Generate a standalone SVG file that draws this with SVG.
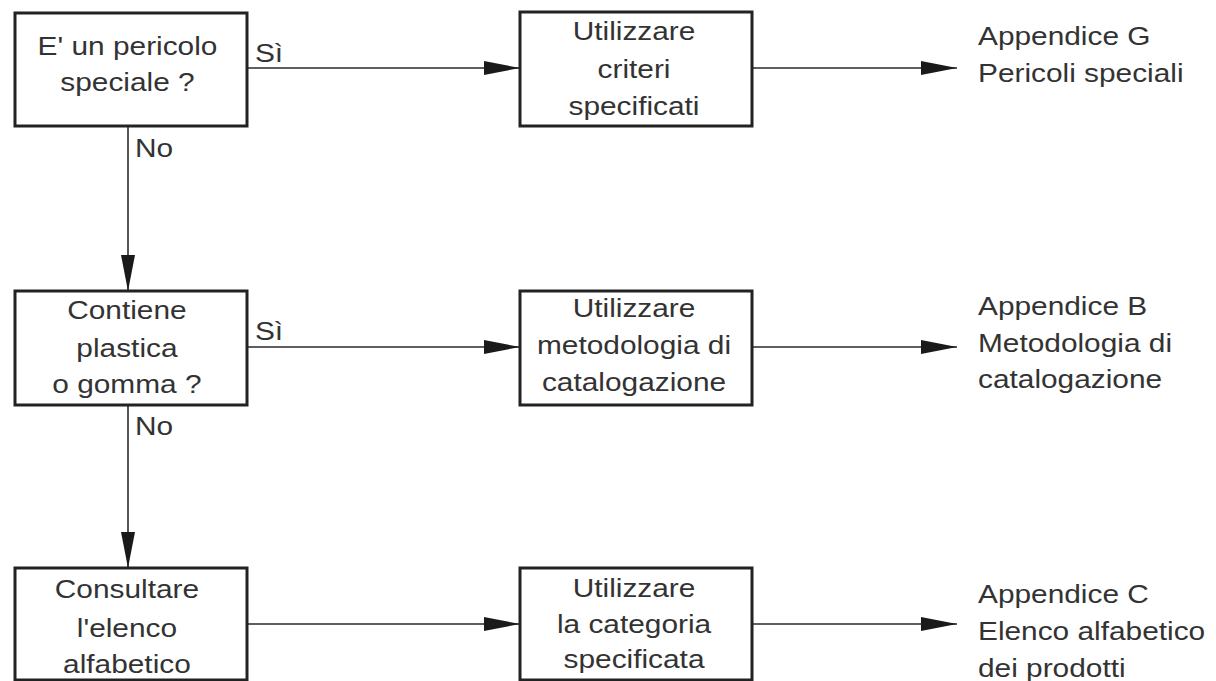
<svg xmlns="http://www.w3.org/2000/svg" width="1216" height="681" viewBox="0 0 1216 681">
<style>
.box{fill:#fff;stroke:#222;stroke-width:3}
.ln{fill:none;stroke:#2a2a2a;stroke-width:1.6}
text{font-family:"Liberation Sans",Arial,sans-serif;font-size:25.5px;fill:#333}
.c{text-anchor:middle}
</style>
<defs>
<marker id="ah" markerUnits="userSpaceOnUse" markerWidth="36" markerHeight="16" refX="36" refY="8" orient="auto">
<path d="M0,1 L36,8 L0,15 Z" fill="#1a1a1a"/>
</marker>
</defs>
<rect width="1216" height="681" fill="#fff"/>
<g id="connectors">
<path class="ln" d="M247,68 H520" marker-end="url(#ah)"/>
<path class="ln" d="M752,68 H957" marker-end="url(#ah)"/>
<path class="ln" d="M128,126 V291" marker-end="url(#ah)"/>
<path class="ln" d="M247,347 H520" marker-end="url(#ah)"/>
<path class="ln" d="M752,347 H957" marker-end="url(#ah)"/>
<path class="ln" d="M128,405 V568" marker-end="url(#ah)"/>
<path class="ln" d="M247,624 H520" marker-end="url(#ah)"/>
<path class="ln" d="M752,624 H957" marker-end="url(#ah)"/>
<g transform="scale(1.17,1)">
<text x="217.9" y="62">Sì</text>
<text x="115.4" y="157">No</text>
<text x="217.9" y="340">Sì</text>
<text x="115.4" y="435">No</text>
</g>
</g>
<g id="n1">
<rect class="box" x="15" y="13" width="232" height="113"/>
<g transform="scale(1.17,1)"><text class="c" x="109" y="55">E' un pericolo</text><text class="c" x="109" y="91">speciale ?</text></g>
</g>
<g id="n2">
<rect class="box" x="520" y="12" width="232" height="114"/>
<g transform="scale(1.17,1)"><text class="c" x="541.9" y="40">Utilizzare</text><text class="c" x="541.9" y="78">criteri</text><text class="c" x="541.9" y="115">specificati</text></g>
</g>
<g id="n3">
<g transform="scale(1.17,1)"><text x="835.9" y="45">Appendice G</text><text x="835.9" y="82">Pericoli speciali</text></g>
</g>
<g id="n4">
<rect class="box" x="15" y="291" width="232" height="114"/>
<g transform="scale(1.17,1)"><text class="c" x="108.5" y="319">Contiene</text><text class="c" x="108.5" y="357">plastica</text><text class="c" x="108.5" y="393">o gomma ?</text></g>
</g>
<g id="n5">
<rect class="box" x="520" y="291" width="232" height="114"/>
<g transform="scale(1.17,1)"><text class="c" x="541.9" y="317">Utilizzare</text><text class="c" x="541.9" y="354">metodologia di</text><text class="c" x="541.9" y="391">catalogazione</text></g>
</g>
<g id="n6">
<g transform="scale(1.17,1)"><text x="835.9" y="315">Appendice B</text><text x="835.9" y="352">Metodologia di</text><text x="835.9" y="388">catalogazione</text></g>
</g>
<g id="n7">
<rect class="box" x="15" y="568" width="232" height="112"/>
<g transform="scale(1.17,1)"><text class="c" x="108.5" y="598">Consultare</text><text class="c" x="108.5" y="637">l'elenco</text><text class="c" x="108.5" y="673">alfabetico</text></g>
</g>
<g id="n8">
<rect class="box" x="520" y="568" width="232" height="112"/>
<g transform="scale(1.17,1)"><text class="c" x="541.9" y="597">Utilizzare</text><text class="c" x="541.9" y="633">la categoria</text><text class="c" x="541.9" y="668">specificata</text></g>
</g>
<g id="n9">
<g transform="scale(1.17,1)"><text x="835.9" y="603">Appendice C</text><text x="835.9" y="640">Elenco alfabetico</text><text x="835.9" y="677">dei prodotti</text></g>
</g>
</svg>
